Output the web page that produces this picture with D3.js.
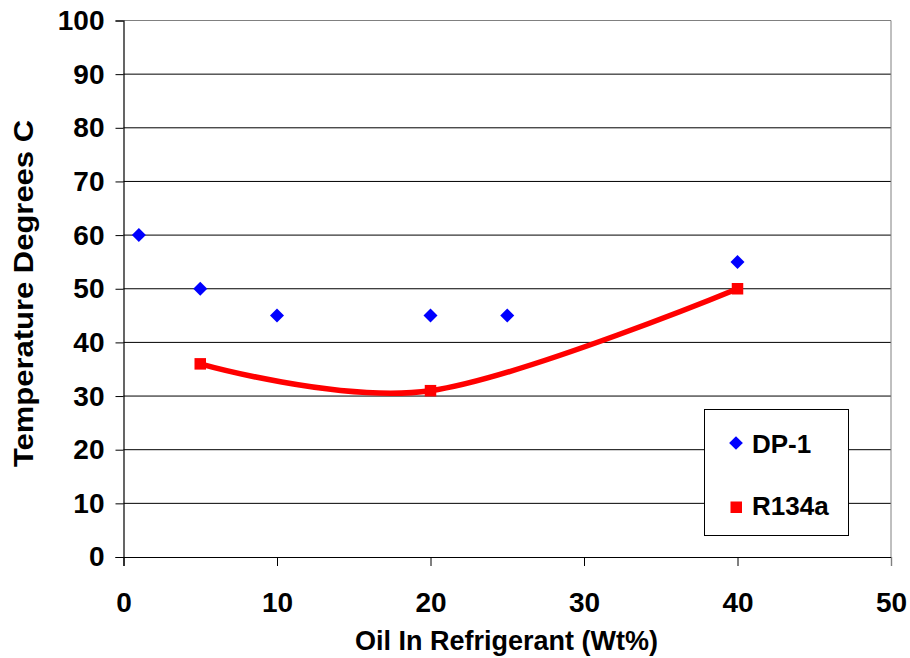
<!DOCTYPE html>
<html>
<head>
<meta charset="utf-8">
<script src="https://cdn.jsdelivr.net/npm/d3@7"></script>
<style>
  html, body { margin: 0; padding: 0; background: #fff; }
  svg { display: block; font-family: "Liberation Sans", Arial, sans-serif; font-weight: bold; }
</style>
</head>
<body>
<svg id="chart" width="910" height="658"></svg>
<script>
// Oil concentration (wt%) and measured temperatures
const dp1X = [1, 5, 10, 20, 25, 40];
const dp1Y = [60, 50, 45, 45, 45, 55];
const r134aX = [5, 20, 40];
const r134aY = [36, 31, 50];
const xTicks = [0, 10, 20, 30, 40, 50];
const yTicks = [0, 10, 20, 30, 40, 50, 60, 70, 80, 90, 100];
const seriesNames = ["DP-1", "R134a"];

const svg = d3.select("#chart");
const plotL = 123.5, plotR = 891, plotT = 20.5, plotB = 557;

const x = d3.scaleLinear().domain([0, 50]).range([plotL, plotR]);
const y = d3.scaleLinear().domain([0, 100]).range([plotB, plotT]);

// Horizontal gridlines
svg.append("g").selectAll("line").data(yTicks.filter(d => d > 0)).join("line")
  .attr("x1", plotL).attr("x2", plotR)
  .attr("y1", d => y(d)).attr("y2", d => y(d))
  .attr("stroke", d => d === 100 ? "#808080" : "#000")
  .attr("stroke-width", 1);

// Right border of plot area
svg.append("line").attr("x1", plotR).attr("x2", plotR).attr("y1", plotT).attr("y2", plotB)
  .attr("stroke", "#808080").attr("stroke-width", 1);

// Axes
const yAxis = svg.append("g").attr("transform", `translate(${plotL},0)`)
  .call(d3.axisLeft(y).tickValues(yTicks).tickSize(8).tickPadding(11));
const xAxis = svg.append("g").attr("transform", `translate(0,${plotB})`)
  .call(d3.axisBottom(x).tickValues(xTicks).tickSize(9).tickPadding(26));
[yAxis, xAxis].forEach(a => {
  a.select(".domain").attr("stroke", "#000").attr("stroke-width", 1.2);
  a.selectAll(".tick line").attr("stroke", "#000");
  a.selectAll("text").attr("font-size", 28).attr("font-weight", "bold")
    .attr("font-family", "Liberation Sans, Arial, sans-serif").attr("fill", "#000");
});
xAxis.selectAll(".tick:last-child line").attr("stroke", "#808080");

// R134a smoothed line through its points
svg.append("path").datum(r134aX.map((v, i) => [v, r134aY[i]]))
  .attr("d", d3.line().curve(d3.curveCardinal.tension(0)).x(d => x(d[0])).y(d => y(d[1])))
  .attr("fill", "none").attr("stroke", "#ff0000").attr("stroke-width", 5.5);

// Markers
const diamond = d3.symbol().type(d3.symbolDiamond2).size(125);
svg.append("g").selectAll("path").data(dp1X.map((v, i) => [v, dp1Y[i]])).join("path")
  .attr("d", diamond)
  .attr("transform", d => `translate(${x(d[0])},${y(d[1])})`)
  .attr("fill", "#0000ff");
const sq = 11.5;
svg.append("g").selectAll("rect").data(r134aX.map((v, i) => [v, r134aY[i]])).join("rect")
  .attr("x", d => x(d[0]) - sq / 2).attr("y", d => y(d[1]) - sq / 2)
  .attr("width", sq).attr("height", sq)
  .attr("fill", "#ff0000");

// Axis titles
svg.append("text").attr("x", 506.5).attr("y", 650)
  .attr("text-anchor", "middle").attr("font-size", 27)
  .attr("textLength", 303).attr("lengthAdjust", "spacingAndGlyphs")
  .text("Oil In Refrigerant (Wt%)");
svg.append("text").attr("transform", "translate(33,293.5) rotate(-90)")
  .attr("text-anchor", "middle").attr("font-size", 28)
  .attr("textLength", 347).attr("lengthAdjust", "spacingAndGlyphs")
  .text("Temperature Degrees C");

// Legend
const lg = svg.append("g");
lg.append("rect").attr("x", 704.5).attr("y", 409.5).attr("width", 144).attr("height", 126)
  .attr("fill", "#fff").attr("stroke", "#000").attr("stroke-width", 1);
lg.append("path").attr("d", d3.symbol().type(d3.symbolDiamond2).size(120))
  .attr("transform", "translate(736,443)").attr("fill", "#0000ff");
lg.append("rect").attr("x", 730.5).attr("y", 501.5).attr("width", 11.5).attr("height", 11.5).attr("fill", "#ff0000");
lg.selectAll("text").data(seriesNames).join("text")
  .attr("x", 752).attr("y", (d, i) => 453 + i * 62)
  .attr("font-size", 26).text(d => d);
</script>
</body>
</html>
